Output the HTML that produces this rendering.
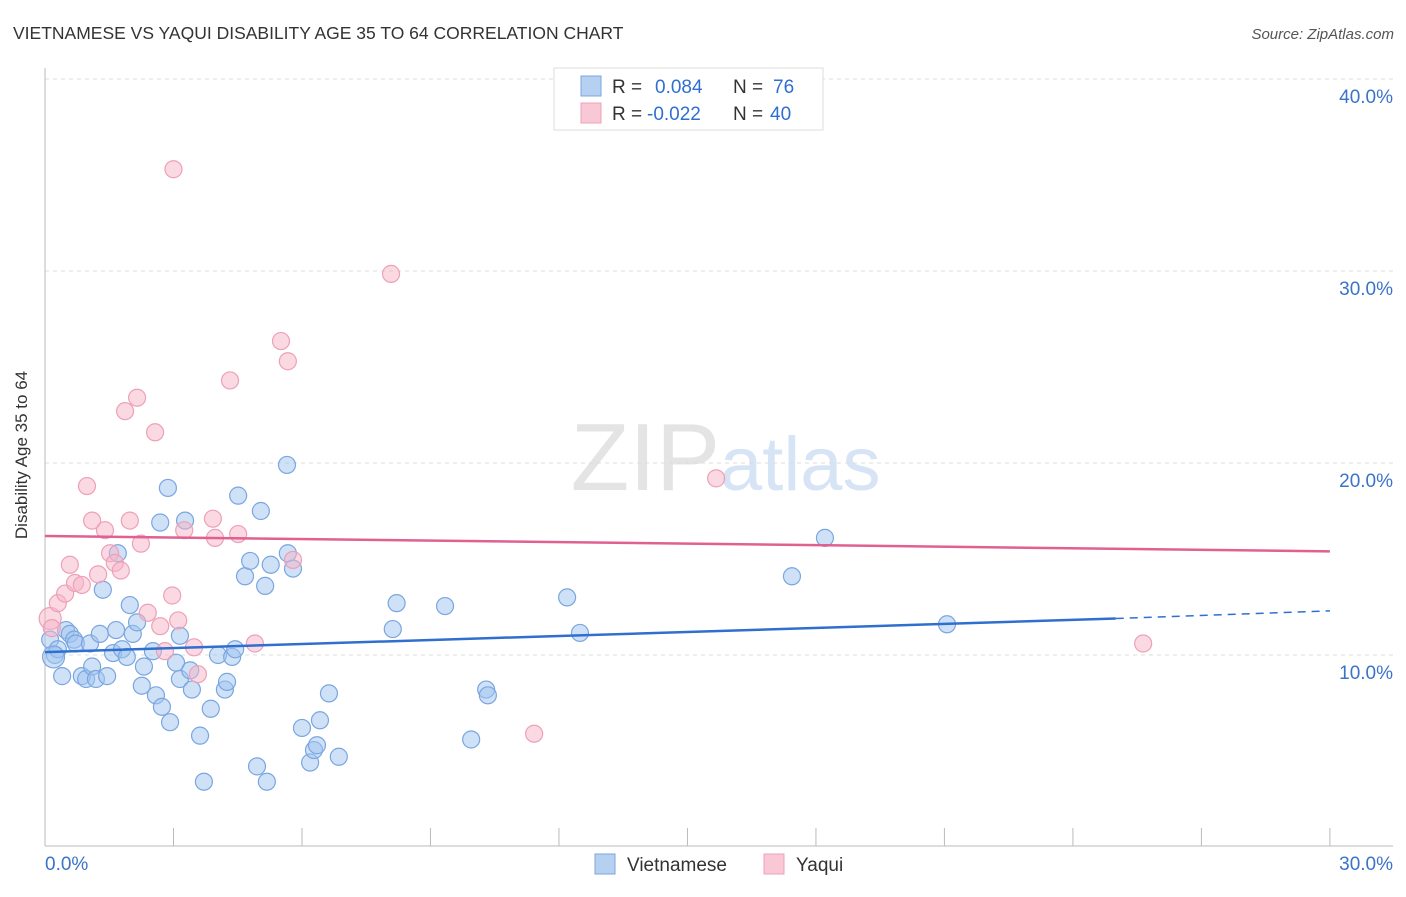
<!DOCTYPE html>
<html><head><meta charset="utf-8"><style>
body{margin:0;background:#fff;font-family:"Liberation Sans",sans-serif}
svg text{font-family:"Liberation Sans",sans-serif}
</style></head><body>
<svg id="c" width="1406" height="892">
<text x="13" y="39" font-size="17.5" fill="#333">VIETNAMESE VS YAQUI DISABILITY AGE 35 TO 64 CORRELATION CHART</text>
<text x="1394" y="39" font-size="15" fill="#555" font-style="italic" text-anchor="end">Source: ZipAtlas.com</text>
<text x="720" y="490" font-size="96" fill="#e4e4e4" text-anchor="end" font-family="Liberation Serif">ZIP</text>
<text x="720" y="490" font-size="76" fill="#d6e4f5">atlas</text>
<g id="grid"></g><g id="pts"></g><g id="lines"></g>
<text x="27" y="455" font-size="17" fill="#333" text-anchor="middle" transform="rotate(-90 27 455)">Disability Age 35 to 64</text>
<g>
<rect x="554" y="68" width="269" height="62" fill="#fff" stroke="#ddd"/>
<rect x="581" y="76" width="20" height="20" fill="#b6d0f2" stroke="#7aa6e0"/>
<rect x="581" y="103" width="20" height="20" fill="#f8c8d6" stroke="#eea0b8"/>
<text x="612" y="93" font-size="19" fill="#333">R = <tspan fill="#2f6fd0" x="655">0.084</tspan><tspan x="733" fill="#333">N = </tspan><tspan fill="#2f6fd0" x="773">76</tspan></text>
<text x="612" y="120" font-size="19" fill="#333">R = <tspan fill="#2f6fd0" x="647">-0.022</tspan><tspan x="733" fill="#333">N = </tspan><tspan fill="#2f6fd0" x="770">40</tspan></text>
</g>
<g>
<rect x="595" y="854" width="20" height="20" fill="#b6d0f2" stroke="#7aa6e0"/>
<text x="627" y="871" font-size="19" fill="#333">Vietnamese</text>
<rect x="764" y="854" width="20" height="20" fill="#f8c8d6" stroke="#eea0b8"/>
<text x="796" y="871" font-size="19" fill="#333">Yaqui</text>
</g>
</svg>
<script>
const yTicks=[10,20,30,40];
const yTickLabels=["10.0%","20.0%","30.0%","40.0%"];
const xTicks=[0,3,6,9,12,15,18,21,24,27,30];
const blueX=[0.12,0.23,0.30,0.40,0.49,0.58,0.68,0.72,0.86,0.96,1.10,1.05,1.19,1.28,1.35,1.45,1.59,1.66,1.70,1.80,1.91,1.98,2.05,2.15,2.26,2.31,2.52,2.59,2.69,2.73,2.87,2.92,3.06,3.15,3.15,3.27,3.39,3.43,3.62,3.71,3.87,4.04,4.20,4.25,4.37,4.44,4.51,4.67,4.79,4.95,5.04,5.14,5.18,5.27,5.67,5.65,5.79,6.00,6.19,6.28,6.35,6.42,6.63,6.86,8.12,8.21,9.34,9.95,10.30,10.34,12.19,12.49,17.44,18.21,21.06,0.2];
const blueY=[10.8,10.0,10.3,8.9,11.3,11.1,10.8,10.6,8.9,8.75,9.4,10.6,8.75,11.1,13.4,8.9,10.1,11.3,15.3,10.3,9.9,12.6,11.1,11.7,8.4,9.4,10.2,7.9,16.9,7.3,18.7,6.5,9.6,11.0,8.75,17.0,9.2,8.2,5.8,3.4,7.2,10.0,8.2,8.6,9.9,10.3,18.3,14.1,14.9,4.2,17.5,13.6,3.4,14.7,15.3,19.9,14.5,6.2,4.4,5.05,5.3,6.6,8.0,4.7,11.35,12.7,12.55,5.6,8.2,7.9,13.0,11.15,14.1,16.1,11.6,9.9];
const pinkX=[0.12,0.16,0.30,0.47,0.58,0.70,0.86,0.98,1.10,1.24,1.40,1.52,1.63,1.77,1.87,1.98,2.15,2.24,2.40,2.57,2.69,2.80,2.97,3.00,3.11,3.25,3.48,3.57,3.92,3.97,4.32,4.51,4.90,5.51,5.67,5.79,8.08,11.42,15.67,25.64];
const pinkY=[11.9,11.4,12.7,13.2,14.7,13.75,13.65,18.8,17.0,14.2,16.5,15.3,14.8,14.4,22.7,17.0,23.4,15.8,12.2,21.6,11.5,10.2,13.1,35.3,11.8,16.5,10.4,9.0,17.1,16.1,24.3,16.3,10.6,26.35,25.3,14.95,29.85,5.9,19.2,10.6];
const blueLine=[[0,10.15],[25,11.9],[30,12.3]];
const pinkLine=[[0,16.2],[30,15.4]];
const NS="http://www.w3.org/2000/svg";
const sx=v=>45+v*42.83, sy=v=>847-v*19.2;
function mk(t,a,p){const e=document.createElementNS(NS,t);for(const k in a)e.setAttribute(k,a[k]);p.appendChild(e);return e;}
const g=document.getElementById('grid');
yTicks.forEach((t,i)=>{
 const l=mk('line',{x1:45,x2:1393,y1:sy(t),y2:sy(t),stroke:'#ddd','stroke-dasharray':'4,4'},g);
 
 
 const tx=mk('text',{x:1393,y:sy(t)+24,'font-size':19,fill:'#3b73c8','text-anchor':'end'},g);
 tx.textContent=yTickLabels[i];
 
 
});
const ax=mk('line',{x1:45,x2:45,y1:68,y2:846,stroke:'#bbb'},g);


const bx=mk('line',{x1:45,x2:1393,y1:846,y2:846,stroke:'#bbb'},g);


xTicks.forEach(t=>{
 const l=mk('line',{x1:sx(t),x2:sx(t),y1:828,y2:846,stroke:'#bbb'},g);
 
 
});
const x0=mk('text',{x:45,y:870,'font-size':19,fill:'#3b73c8'},g);x0.textContent="0.0%";


const x1=mk('text',{x:1393,y:870,'font-size':19,fill:'#3b73c8','text-anchor':'end'},g);x1.textContent="30.0%";


const p=document.getElementById('pts');
blueX.forEach((x,i)=>{
 const c=mk('circle',{cx:sx(x),cy:sy(blueY[i]),r:(i==blueX.length-1?11:8.5),fill:'rgba(160,196,240,0.5)',stroke:'#7aa6e0','stroke-width':1.2},p);
 
 
});
pinkX.forEach((x,i)=>{
 const c=mk('circle',{cx:sx(x),cy:sy(pinkY[i]),r:(i==0?11:8.5),fill:'rgba(245,180,200,0.5)',stroke:'#eea0b8','stroke-width':1.2},p);
 
 
});
const L=document.getElementById('lines');
const b1=mk('line',{x1:sx(blueLine[0][0]),y1:sy(blueLine[0][1]),x2:sx(blueLine[1][0]),y2:sy(blueLine[1][1]),stroke:'#2f6fd0','stroke-width':2.5},L);


const b2=mk('line',{x1:sx(blueLine[1][0]),y1:sy(blueLine[1][1]),x2:sx(blueLine[2][0]),y2:sy(blueLine[2][1]),stroke:'#2f6fd0','stroke-width':1.5,'stroke-dasharray':'8,6'},L);


const p1=mk('line',{x1:sx(pinkLine[0][0]),y1:sy(pinkLine[0][1]),x2:sx(pinkLine[1][0]),y2:sy(pinkLine[1][1]),stroke:'#e06090','stroke-width':2.5},L);


</script>
</body></html>
